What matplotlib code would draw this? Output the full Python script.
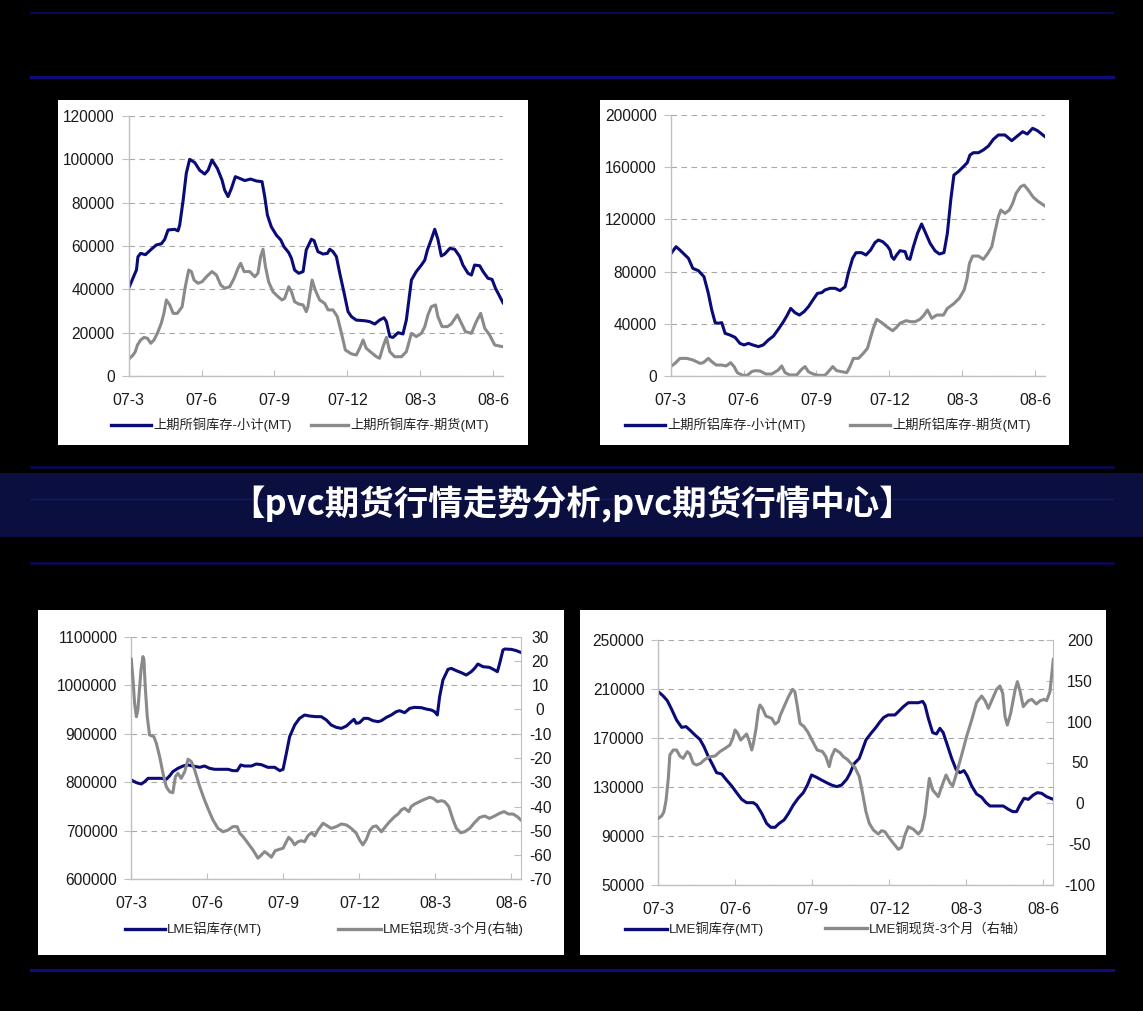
#!/usr/bin/env python3
"""
Quatre graphiques de stocks de metaux (SHFE / LME) sur fond noir, avec bandeau titre.
"""

import numpy as np
import matplotlib
matplotlib.use('Agg')
import matplotlib.pyplot as plt
from matplotlib.patches import Rectangle
from matplotlib.lines import Line2D

plt.rcParams['font.family'] = ['Liberation Sans', 'Noto Sans CJK SC']
plt.rcParams['axes.unicode_minus'] = False

W, H = 1143, 1011
NAVY = '#0b0b78'
GREY = '#8a8a8a'

TITLE = '【pvc期货行情走势分析,pvc期货行情中心】'
TICK_MONTHS = [0, 3, 6, 9, 12, 15]
TICK_LABELS = ['07-3', '07-6', '07-9', '07-12', '08-3', '08-6']

# --- SHFE cuivre (mois depuis 07-3, tonnes) ---
cu_shfe_total_m = [
    0.00, 0.32, 0.38, 0.49, 0.69, 0.93, 1.14, 1.34, 1.48, 1.62,
    1.89, 2.03, 2.10, 2.24, 2.37, 2.51, 2.72, 2.92, 3.13, 3.27,
    3.43, 3.65, 3.84, 3.95, 4.09, 4.23, 4.39, 4.57, 4.78, 5.02,
    5.26, 5.49, 5.60, 5.71, 5.87, 6.08, 6.26, 6.39, 6.59, 6.70,
    6.83, 7.00, 7.18, 7.31, 7.52, 7.63, 7.79, 8.00, 8.18, 8.28,
    8.41, 8.55, 8.69, 8.87, 9.03, 9.17, 9.37, 9.72, 9.92, 10.13,
    10.33, 10.51, 10.61, 10.75, 10.88, 11.09, 11.29, 11.43, 11.64, 11.84,
    12.05, 12.19, 12.30, 12.46, 12.60, 12.73, 12.87, 13.01, 13.22, 13.42,
    13.63, 13.76, 13.97, 14.11, 14.24, 14.45, 14.59, 14.79, 14.96, 15.10,
    15.41]
cu_shfe_total = [
    40500, 49000, 55000, 56600, 56000, 58500, 60500, 61000, 63000, 67400,
    67700, 67000, 69700, 81000, 93500, 100000, 98500, 95000, 93200, 95000,
    99700, 95800, 90500, 85800, 82800, 86600, 92000, 91200, 90200, 90900,
    90000, 89700, 82800, 74300, 68900, 65000, 62800, 59700, 56900, 54300,
    48900, 47400, 48200, 58200, 63100, 62500, 57400, 56300, 56600, 58500,
    57400, 55100, 47400, 38200, 29700, 27400, 25800, 25500, 25100, 24000,
    25800, 26900, 25100, 18200, 17800, 20000, 19400, 25800, 44300, 48200,
    51200, 53500, 58200, 63100, 67700, 63100, 55400, 56300, 58900, 58500,
    55100, 51200, 47400, 46600, 51200, 50900, 48200, 45100, 44600, 40500,
    33800]
cu_shfe_fut_m = [
    0.00, 0.18, 0.27, 0.36, 0.49, 0.63, 0.77, 0.91, 1.04, 1.18,
    1.34, 1.45, 1.55, 1.69, 1.83, 2.00, 2.20, 2.33, 2.47, 2.58,
    2.69, 2.85, 3.02, 3.20, 3.43, 3.61, 3.79, 3.95, 4.16, 4.34,
    4.50, 4.61, 4.75, 4.98, 5.19, 5.32, 5.43, 5.53, 5.63, 5.76,
    5.94, 6.15, 6.31, 6.42, 6.59, 6.70, 6.83, 7.00, 7.18, 7.31,
    7.38, 7.55, 7.68, 7.86, 8.07, 8.21, 8.41, 8.59, 8.76, 8.92,
    9.17, 9.37, 9.51, 9.65, 9.78, 9.99, 10.20, 10.33, 10.47, 10.61,
    10.75, 10.95, 11.23, 11.43, 11.64, 11.84, 12.05, 12.19, 12.32, 12.46,
    12.63, 12.73, 12.90, 13.12, 13.28, 13.53, 13.70, 13.86, 14.11, 14.31,
    14.49, 14.66, 14.86, 15.07, 15.41]
cu_shfe_fut = [
    7700, 9700, 11200, 14300, 16600, 17800, 17400, 15100, 16600, 19700,
    24300, 28900, 35100, 32800, 28900, 28900, 32000, 41200, 48900, 48200,
    44300, 42800, 43500, 45800, 48200, 46600, 42000, 40500, 41200, 45100,
    49700, 52000, 48200, 48200, 45800, 47400, 55100, 58500, 50500, 43500,
    38900, 36600, 35100, 35800, 41200, 38900, 34300, 33200, 32800, 29700,
    32000, 44300, 39700, 35100, 33500, 30500, 30500, 27400, 19700, 12000,
    10200, 9700, 12800, 16600, 12800, 10800, 8900, 8200, 13500, 17800,
    11200, 8900, 8900, 11200, 19700, 18200, 19700, 22800, 28200, 32000,
    32800, 27400, 22800, 22800, 24000, 28200, 24300, 20500, 19700, 25100,
    28900, 22000, 18900, 14300, 13500]

# --- SHFE aluminium ---
al_shfe_total_m = [
    0.00, 0.22, 0.38, 0.59, 0.73, 0.91, 1.14, 1.37, 1.55, 1.69,
    1.83, 1.96, 2.10, 2.24, 2.44, 2.65, 2.85, 3.02, 3.20, 3.38,
    3.61, 3.81, 4.02, 4.23, 4.43, 4.64, 4.78, 4.94, 5.12, 5.30,
    5.49, 5.67, 5.87, 6.04, 6.22, 6.35, 6.56, 6.77, 6.97, 7.18,
    7.31, 7.49, 7.63, 7.86, 8.04, 8.23, 8.41, 8.55, 8.73, 8.92,
    9.03, 9.10, 9.19, 9.30, 9.44, 9.65, 9.74, 9.85, 9.99, 10.16,
    10.33, 10.47, 10.68, 10.88, 11.06, 11.25, 11.39, 11.53, 11.66, 11.84,
    12.05, 12.21, 12.32, 12.46, 12.67, 12.87, 13.08, 13.28, 13.49, 13.76,
    14.04, 14.24, 14.49, 14.68, 14.90, 15.10, 15.41]
al_shfe_total = [
    93500, 99100, 96500, 92700, 90200, 82500, 80700, 76100, 63300, 50600,
    40900, 40400, 40900, 32700, 31400, 29600, 25000, 23800, 25000, 23800,
    22500, 23800, 27600, 30600, 35800, 41600, 46000, 51800, 48500, 46700,
    49300, 53100, 58700, 63300, 63900, 65900, 67200, 67200, 65400, 68400,
    78700, 90200, 94500, 94500, 92700, 96500, 102200, 104200, 102900, 99600,
    96500, 91400, 89400, 92700, 96000, 95300, 90200, 89400, 99100, 109300,
    116500, 110600, 101700, 96000, 93500, 94500, 109300, 134900, 154000, 156600,
    160400, 163500, 169300, 171100, 171100, 173200, 176200, 181300, 184700, 184700,
    180300, 183400, 187200, 185400, 189800, 188000, 183400]
al_shfe_fut_m = [
    0.00, 0.18, 0.38, 0.66, 0.91, 1.21, 1.34, 1.55, 1.69, 1.87,
    2.10, 2.28, 2.47, 2.61, 2.74, 2.96, 3.16, 3.33, 3.47, 3.68,
    3.92, 4.16, 4.43, 4.57, 4.71, 4.89, 5.19, 5.39, 5.53, 5.67,
    5.87, 6.08, 6.35, 6.53, 6.67, 6.83, 7.04, 7.25, 7.38, 7.52,
    7.73, 7.93, 8.10, 8.23, 8.34, 8.48, 8.69, 8.89, 9.14, 9.30,
    9.44, 9.69, 9.88, 10.06, 10.26, 10.43, 10.57, 10.75, 10.95, 11.23,
    11.39, 11.64, 11.88, 12.08, 12.19, 12.30, 12.43, 12.67, 12.87, 13.04,
    13.22, 13.35, 13.49, 13.59, 13.76, 13.94, 14.08, 14.22, 14.41, 14.55,
    14.72, 14.93, 15.14, 15.41]
al_shfe_fut = [
    7200, 9700, 13500, 13500, 12300, 9700, 10200, 13500, 11000, 8400,
    8400, 7700, 10200, 7200, 2600, 500, 500, 3300, 4100, 3800,
    1500, 1500, 4600, 7700, 2600, 800, 800, 5100, 7200, 3300,
    1500, 500, 500, 4100, 7200, 4100, 3300, 2600, 7200, 13500,
    13500, 17400, 21200, 29600, 36500, 43400, 40900, 37800, 34700, 37300,
    40400, 42400, 41600, 41600, 43400, 46700, 50600, 44200, 46700, 46700,
    51800, 55200, 59500, 65900, 73600, 86300, 91900, 91900, 89400, 93500,
    99100, 110600, 122100, 127200, 124600, 127200, 132300, 140000, 145100, 146300,
    142500, 136900, 133600, 130300]

# --- LME aluminium : stock (MT) et spread cash-3M (axe droit) ---
al_lme_stock_m = [
    0.00, 0.20, 0.39, 0.53, 0.66, 0.92, 1.18, 1.38, 1.51, 1.64,
    1.84, 2.04, 2.24, 2.43, 2.70, 2.89, 3.09, 3.29, 3.55, 3.82,
    4.01, 4.18, 4.32, 4.47, 4.74, 4.93, 5.13, 5.39, 5.66, 5.86,
    5.99, 6.12, 6.25, 6.45, 6.64, 6.84, 7.04, 7.30, 7.50, 7.70,
    7.89, 8.09, 8.29, 8.49, 8.68, 8.79, 8.88, 9.01, 9.18, 9.34,
    9.54, 9.74, 9.87, 10.07, 10.26, 10.46, 10.59, 10.79, 10.99, 11.18,
    11.45, 11.64, 11.84, 11.97, 12.08, 12.17, 12.30, 12.50, 12.63, 12.83,
    13.03, 13.22, 13.42, 13.55, 13.68, 13.88, 14.14, 14.34, 14.45, 14.54,
    14.67, 14.74, 15.00, 15.20, 15.37]
al_lme_stock = [
    804700, 799200, 796400, 801200, 808100, 808100, 808100, 806100, 813000, 821900,
    828700, 833500, 835600, 833500, 830800, 833500, 828700, 826700, 826700, 826700,
    823900, 823900, 835600, 833500, 833500, 837600, 836300, 830800, 830800, 823900,
    826700, 859600, 894000, 918000, 931700, 938600, 936500, 935200, 935200, 928300,
    918000, 913200, 911100, 915900, 924900, 929700, 921400, 922800, 931700, 931700,
    926900, 924900, 926900, 933800, 938600, 945500, 947500, 943400, 952300, 954400,
    953700, 950900, 948900, 945500, 938600, 976400, 1010700, 1032700, 1034800, 1029900,
    1025800, 1021000, 1027900, 1034800, 1043700, 1038200, 1036800, 1031300, 1027900, 1045100,
    1072500, 1074600, 1073900, 1071200, 1067700]
al_lme_spread_m = [
    0.00, 0.07, 0.13, 0.20, 0.26, 0.33, 0.39, 0.46, 0.50, 0.55,
    0.63, 0.72, 0.89, 0.99, 1.12, 1.25, 1.38, 1.51, 1.64, 1.74,
    1.84, 1.97, 2.11, 2.24, 2.37, 2.50, 2.70, 2.89, 3.05, 3.22,
    3.42, 3.62, 3.82, 4.01, 4.18, 4.28, 4.41, 4.61, 4.80, 5.00,
    5.13, 5.26, 5.39, 5.53, 5.68, 5.86, 5.99, 6.12, 6.21, 6.32,
    6.45, 6.58, 6.71, 6.84, 6.97, 7.11, 7.24, 7.37, 7.57, 7.74,
    7.89, 8.09, 8.29, 8.49, 8.68, 8.88, 9.01, 9.14, 9.28, 9.41,
    9.54, 9.67, 9.87, 10.03, 10.20, 10.39, 10.53, 10.66, 10.79, 10.95,
    11.05, 11.18, 11.38, 11.58, 11.78, 11.91, 12.08, 12.24, 12.37, 12.53,
    12.70, 12.83, 13.00, 13.16, 13.36, 13.55, 13.75, 13.95, 14.14, 14.34,
    14.54, 14.71, 14.89, 15.07, 15.24, 15.37]
al_lme_spread = [
    20.7, 12.1, 2.5, -3.0, -0.2, 9.4, 17.0, 21.8, 20.4, 9.4,
    -3.0, -10.5, -11.2, -14.0, -19.5, -26.3, -31.8, -33.9, -34.3, -27.7,
    -26.3, -28.4, -25.6, -20.5, -21.5, -24.9, -31.8, -37.3, -41.4, -45.5,
    -49.0, -50.4, -49.7, -48.3, -48.3, -51.0, -52.4, -55.2, -57.9, -61.3,
    -60.0, -58.6, -59.6, -60.9, -58.2, -57.6, -57.2, -54.5, -52.7, -53.8,
    -55.8, -54.5, -54.1, -54.5, -52.1, -50.8, -52.1, -49.7, -46.9, -48.0,
    -49.0, -48.3, -47.2, -47.6, -49.0, -51.0, -53.8, -55.8, -53.5, -49.9,
    -48.3, -48.0, -50.4, -48.3, -46.2, -44.2, -43.1, -41.4, -40.7, -42.1,
    -40.0, -39.0, -38.0, -37.0, -36.2, -36.6, -38.0, -37.6, -38.0, -40.0,
    -45.5, -49.0, -50.8, -50.4, -49.0, -46.6, -44.5, -43.9, -44.9, -43.9,
    -42.8, -42.1, -43.1, -43.1, -44.2, -45.5]

# --- LME cuivre : stock (MT) et spread cash-3M (axe droit) ---
cu_lme_stock_m = [
    0.00, 0.19, 0.35, 0.52, 0.71, 0.91, 1.08, 1.23, 1.43, 1.62,
    1.78, 1.95, 2.12, 2.27, 2.47, 2.66, 2.86, 3.05, 3.25, 3.44,
    3.70, 3.83, 4.03, 4.22, 4.38, 4.55, 4.71, 4.90, 5.06, 5.26,
    5.45, 5.65, 5.81, 5.97, 6.17, 6.36, 6.56, 6.75, 6.95, 7.14,
    7.34, 7.47, 7.62, 7.83, 7.96, 8.09, 8.31, 8.48, 8.64, 8.79,
    8.96, 9.22, 9.39, 9.55, 9.74, 9.94, 10.13, 10.30, 10.39, 10.52,
    10.69, 10.84, 10.97, 11.10, 11.26, 11.43, 11.60, 11.75, 11.91, 12.04,
    12.21, 12.40, 12.60, 12.77, 12.92, 13.18, 13.44, 13.64, 13.81, 13.96,
    14.09, 14.25, 14.42, 14.61, 14.77, 14.94, 15.13, 15.39]
cu_lme_stock = [
    207800, 204300, 200500, 193400, 184700, 178700, 179300, 176500, 172400, 168900,
    162900, 154800, 148000, 141700, 140600, 135700, 130800, 125400, 119900, 117200,
    117200, 115300, 108500, 100300, 97100, 97100, 100300, 103100, 108000, 115300,
    120800, 125400, 131600, 139800, 137900, 135700, 133500, 131600, 130300, 131600,
    136300, 141200, 148800, 153400, 160800, 168400, 174400, 178700, 183300, 186900,
    188800, 188800, 192300, 195600, 198800, 198800, 198800, 199900, 196900, 186100,
    174400, 173300, 177900, 174400, 164300, 153400, 144400, 141700, 143400, 139000,
    130800, 124300, 121600, 117200, 114500, 114500, 114500, 111800, 109900, 109900,
    115300, 120800, 119900, 123500, 125400, 124800, 122100, 119900]
cu_lme_spread_m = [
    0.00, 0.13, 0.22, 0.30, 0.39, 0.45, 0.58, 0.71, 0.84, 0.97,
    1.13, 1.23, 1.36, 1.49, 1.65, 1.82, 2.01, 2.21, 2.40, 2.60,
    2.79, 2.90, 2.99, 3.08, 3.21, 3.34, 3.44, 3.55, 3.64, 3.70,
    3.81, 3.90, 3.96, 4.06, 4.19, 4.42, 4.55, 4.68, 4.74, 4.90,
    5.06, 5.23, 5.32, 5.42, 5.52, 5.68, 5.84, 6.04, 6.19, 6.40,
    6.53, 6.66, 6.75, 6.88, 7.08, 7.21, 7.36, 7.53, 7.66, 7.83,
    7.96, 8.09, 8.22, 8.38, 8.57, 8.70, 8.83, 8.96, 9.16, 9.35,
    9.48, 9.61, 9.74, 9.94, 10.13, 10.26, 10.39, 10.56, 10.69, 10.91,
    11.04, 11.21, 11.36, 11.47, 11.62, 11.82, 12.01, 12.21, 12.40, 12.60,
    12.73, 12.86, 13.03, 13.18, 13.31, 13.42, 13.51, 13.60, 13.73, 13.90,
    13.99, 14.09, 14.22, 14.42, 14.55, 14.73, 14.88, 15.04, 15.13, 15.26,
    15.39]
cu_lme_spread = [
    -18.4, -15.5, -10.2, 3.2, 30.6, 59.2, 65.3, 65.3, 57.9, 55.1,
    63.3, 60.4, 49.0, 46.9, 49.0, 53.9, 57.1, 57.9, 63.3, 67.3,
    71.4, 79.6, 89.8, 86.5, 77.5, 81.6, 84.9, 75.5, 65.3, 72.6,
    91.8, 114.3, 120.4, 116.3, 106.9, 104.1, 97.1, 100.0, 106.9, 118.4,
    129.8, 139.6, 136.7, 118.4, 97.9, 93.9, 86.5, 74.3, 65.3, 63.3,
    57.1, 44.9, 57.1, 66.1, 62.0, 57.1, 53.9, 48.1, 44.1, 32.7,
    12.2, -10.2, -24.5, -32.7, -37.6, -33.5, -34.7, -40.8, -49.0, -56.3,
    -53.9, -38.8, -28.6, -31.8, -37.6, -32.7, -14.3, 30.6, 16.3, 8.2,
    20.4, 34.7, 25.3, 21.2, 36.7, 59.2, 81.6, 102.0, 123.3, 131.4,
    125.7, 116.3, 128.6, 139.6, 143.7, 134.7, 106.1, 95.9, 110.2, 138.8,
    149.0, 138.0, 118.4, 125.7, 127.3, 121.6, 125.7, 127.3, 125.7, 136.7,
    176.3]


def fx(px):
    return px / W


def fy(py):
    return 1 - py / H


def add_axes_px(fig, x0, y0, x1, y1):
    """Axes placees en pixels (origine en haut a gauche)."""
    return fig.add_axes([fx(x0), fy(y1), fx(x1 - x0), (y1 - y0) / H])


def style_axes(ax, ymin, ymax, ystep, xmax, xpad=12):
    ax.set_xlim(0, xmax)
    ax.set_ylim(ymin, ymax)
    ax.set_yticks(np.arange(ymin, ymax + 1, ystep))
    ax.yaxis.set_major_formatter(plt.FuncFormatter(lambda v, p: f'{v:.0f}'))
    ax.set_xticks(TICK_MONTHS)
    ax.set_xticklabels(TICK_LABELS)
    ax.grid(axis='y', color='#a8a8a8', linestyle=(0, (5, 4)), linewidth=0.8)
    ax.set_axisbelow(True)
    for s in ['top', 'right']:
        ax.spines[s].set_visible(False)
    for s in ['left', 'bottom']:
        ax.spines[s].set_color('#c0c0c0')
        ax.spines[s].set_linewidth(1.0)
    ax.tick_params(axis='y', direction='out', length=5, color='#c0c0c0',
                   labelsize=11.2, labelcolor='#1a1a1a', pad=5)
    ax.tick_params(axis='x', direction='in', length=4, color='#c0c0c0',
                   labelsize=11.5, labelcolor='#1a1a1a', pad=xpad)


def style_right(ax2, ymin, ymax, ystep, pad):
    ax2.set_ylim(ymin, ymax)
    ticks = np.arange(ymin, ymax + 1, ystep)
    ax2.set_yticks(ticks)
    ax2.set_yticklabels([f'{t:.0f}' for t in ticks], ha='center')
    for s in ['top', 'left', 'bottom']:
        ax2.spines[s].set_visible(False)
    ax2.spines['right'].set_color('#c0c0c0')
    ax2.tick_params(axis='y', direction='in', length=5, color='#c0c0c0',
                    labelsize=11.2, labelcolor='#1a1a1a', pad=pad)


def add_legend_entry(fig, x, y, color, label, length=40):
    handle = Line2D([], [], color=color, lw=2.4)
    fig.legend(handles=[handle], labels=[label], loc='center left',
               bbox_to_anchor=(fx(x), fy(y)), frameon=False,
               handlelength=length / 13.2, handletextpad=0.15,
               borderpad=0, borderaxespad=0, fontsize=9.5,
               labelcolor='#222222')


def main():
    fig = plt.figure(figsize=(W / 100, H / 100), dpi=100, facecolor='black')

    # lignes bleues horizontales et bandeau
    for y, lw, c in [(13, 1.6, '#0a0a52'), (77, 2.4, '#0d0d74'), (467, 1.8, '#0a0a5c'),
                     (563, 1.8, '#0a0a5c'), (970, 2.4, '#0d0d74')]:
        fig.add_artist(Line2D([fx(31), fx(1113)], [fy(y), fy(y)], color=c, lw=lw))
    fig.patches.append(Rectangle((0, fy(537)), 1, 64 / H, transform=fig.transFigure,
                                 facecolor='#0a0f3f', edgecolor='none', zorder=-2))
    fig.add_artist(Line2D([fx(31), fx(1113)], [fy(499), fy(499)], color='#141c66', lw=1.0,
                          zorder=-1))
    fig.text(fx(572), fy(504), TITLE, ha='center', va='center', color='white',
             fontsize=24.8, fontweight='bold', family=['Noto Sans CJK SC'])

    # panneaux blancs (sous les axes)
    for x0, y0, x1, y1 in [(58, 100, 528, 445), (600, 100, 1069, 445),
                           (38, 610, 564, 955), (580, 610, 1106, 955)]:
        fig.patches.append(Rectangle((fx(x0), fy(y1)), fx(x1 - x0), (y1 - y0) / H,
                                     transform=fig.transFigure, facecolor='white',
                                     edgecolor='none', zorder=-1))

    # 1) SHFE cuivre
    ax1 = add_axes_px(fig, 128.7, 116, 503, 376)
    ax1.plot(cu_shfe_fut_m, cu_shfe_fut, color=GREY, lw=2.2, solid_joinstyle='round')
    ax1.plot(cu_shfe_total_m, cu_shfe_total, color=NAVY, lw=2.2, solid_joinstyle='round')
    style_axes(ax1, 0, 120000, 20000, 15.41)
    add_legend_entry(fig, 111, 425, NAVY, '上期所铜库存-小计(MT)')
    add_legend_entry(fig, 311, 425, GREY, '上期所铜库存-期货(MT)', length=37)

    # 2) SHFE aluminium
    ax2 = add_axes_px(fig, 670.7, 115, 1045, 376)
    ax2.plot(al_shfe_fut_m, al_shfe_fut, color=GREY, lw=2.2, solid_joinstyle='round')
    ax2.plot(al_shfe_total_m, al_shfe_total, color=NAVY, lw=2.2, solid_joinstyle='round')
    style_axes(ax2, 0, 200000, 40000, 15.41)
    add_legend_entry(fig, 625, 425, NAVY, '上期所铝库存-小计(MT)')
    add_legend_entry(fig, 850, 425, GREY, '上期所铝库存-期货(MT)')

    # 3) LME aluminium
    ax3 = add_axes_px(fig, 131.3, 636.7, 520.7, 879.3)
    ax3.plot(al_lme_stock_m, al_lme_stock, color=NAVY, lw=2.2, solid_joinstyle='round')
    style_axes(ax3, 600000, 1100000, 100000, 15.37)
    ax3r = ax3.twinx()
    ax3r.plot(al_lme_spread_m, al_lme_spread, color=GREY, lw=2.2, solid_joinstyle='round')
    style_right(ax3r, -70, 30, 10, pad=14)
    add_legend_entry(fig, 125, 929, NAVY, 'LME铝库存(MT)')
    add_legend_entry(fig, 338, 929, GREY, 'LME铝现货-3个月(右轴)', length=43)

    # 4) LME cuivre
    ax4 = add_axes_px(fig, 658.3, 640, 1053.3, 885)
    ax4.plot(cu_lme_stock_m, cu_lme_stock, color=NAVY, lw=2.2, solid_joinstyle='round')
    style_axes(ax4, 50000, 250000, 40000, 15.39)
    ax4r = ax4.twinx()
    ax4r.plot(cu_lme_spread_m, cu_lme_spread, color=GREY, lw=2.2, solid_joinstyle='round')
    style_right(ax4r, -100, 200, 50, pad=19)
    add_legend_entry(fig, 625, 929, NAVY, 'LME铜库存(MT)', length=42)
    add_legend_entry(fig, 825, 929, GREY, 'LME铜现货-3个月（右轴）', length=42)

    fig.savefig('out.png', dpi=100, facecolor='black')


if __name__ == '__main__':
    main()
